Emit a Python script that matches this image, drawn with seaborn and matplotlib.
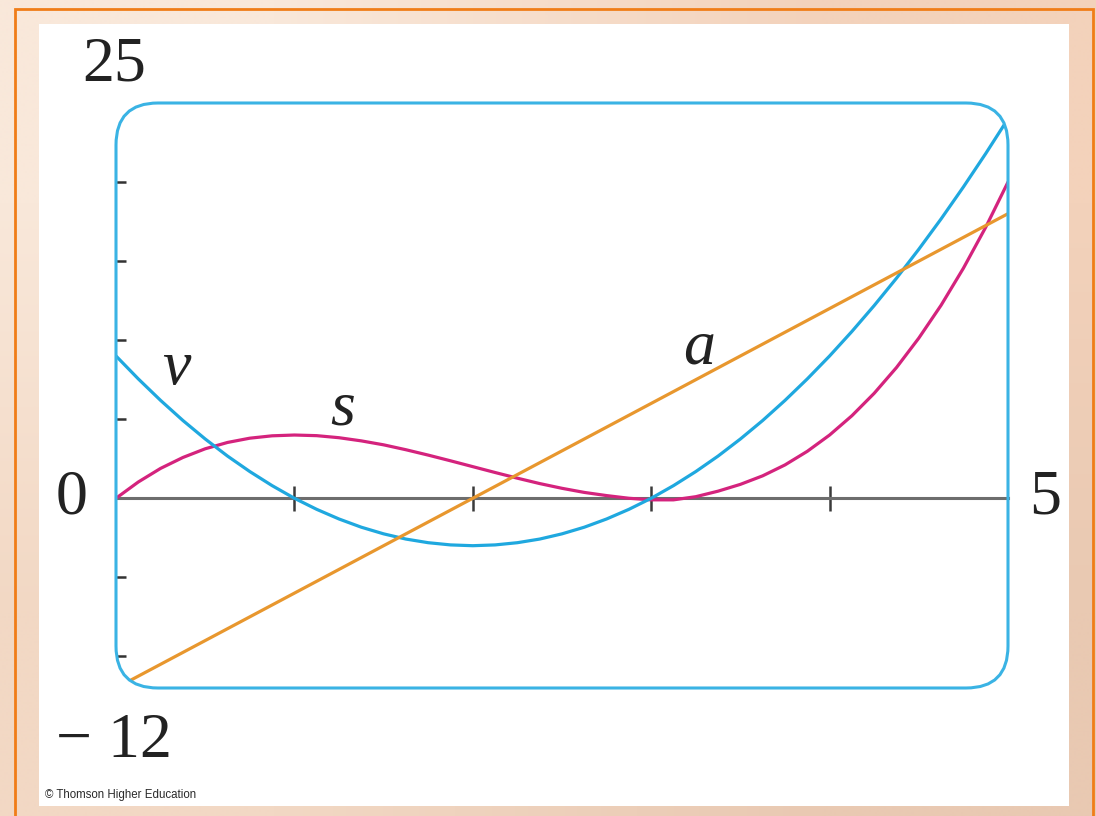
import numpy as np
import pandas as pd
import matplotlib
matplotlib.use("Agg")
import matplotlib.pyplot as plt
from matplotlib.colors import to_rgb
from matplotlib.patches import FancyBboxPatch, Rectangle
import seaborn as sns

# values, t from 0 to 5 in steps of 0.125
t = [0, 0.125, 0.25, 0.375, 0.5, 0.625, 0.75, 0.875, 1,
     1.125, 1.25, 1.375, 1.5, 1.625, 1.75, 1.875, 2,
     2.125, 2.25, 2.375, 2.5, 2.625, 2.75, 2.875, 3,
     3.125, 3.25, 3.375, 3.5, 3.625, 3.75, 3.875, 4,
     4.125, 4.25, 4.375, 4.5, 4.625, 4.75, 4.875, 5]
s = [0, 1.03, 1.89, 2.58, 3.13, 3.53, 3.80, 3.95, 4.0,
     3.96, 3.83, 3.63, 3.38, 3.07, 2.73, 2.37, 2.0,
     1.63, 1.27, 0.93, 0.63, 0.37, 0.17, 0.0, -0.1,
     -0.1, 0.1, 0.45, 0.88, 1.42, 2.11, 2.97, 4.0,
     5.22, 6.64, 8.27, 10.13, 12.21, 14.55, 17.14, 20.0]
v = [9.0, 7.55, 6.19, 4.92, 3.75, 2.67, 1.69, 0.80, 0.0,
     -0.70, -1.31, -1.83, -2.25, -2.58, -2.81, -2.95, -3.0,
     -2.95, -2.81, -2.58, -2.25, -1.83, -1.31, -0.70, 0.0,
     0.80, 1.69, 2.67, 3.75, 4.92, 6.19, 7.55, 9.0,
     10.55, 12.19, 13.92, 15.75, 17.67, 19.69, 21.80, 24.0]
# the a line is straight
t_a = [0, 1, 2, 3, 4, 5]
a = [-12, -6, 0, 6, 12, 18]

curve_names = ["s", "v", "a"]
curve_colors = {"s": "#d4237d", "v": "#1fa8df", "a": "#e8972e"}
# label positions (t, value) for the italic letters
label_pos = {"v": (0.34, 8.2), "s": (1.27, 5.6), "a": (3.27, 9.5)}

x_ticks = [1, 2, 3, 4]
y_ticks = [-10, -5, 5, 10, 15, 20]
y_min, y_max = -12, 25
x_min, x_max = 0, 5

df = pd.concat([
    pd.DataFrame({"t": t, "value": s, "curve": "s"}),
    pd.DataFrame({"t": t, "value": v, "curve": "v"}),
    pd.DataFrame({"t": t_a, "value": a, "curve": "a"}),
], ignore_index=True)

sns.set_style("white")
plt.rcParams["font.family"] = ["Liberation Serif", "DejaVu Serif"]

fig = plt.figure(figsize=(10.96, 8.16), dpi=100)
fig.patch.set_facecolor("#f5d8c3")

# soft peach backdrop
bg = fig.add_axes([0, 0, 1, 1], zorder=-5)
corners = np.array([[to_rgb("#f9e8da"), to_rgb("#f3d2bb")],
                    [to_rgb("#f2d8c4"), to_rgb("#e9c9b2")]])
bg.imshow(corners, aspect="auto", interpolation="bilinear", extent=[0, 1, 0, 1])
bg.axis("off")

# orange frame and white panel
fig.add_artist(Rectangle((15 / 1096, -0.05), 1078 / 1096, 1.05 - 9 / 816,
                         transform=fig.transFigure, facecolor="none",
                         edgecolor="#f07d18", linewidth=2, zorder=-3))
fig.add_artist(Rectangle((39 / 1096, 1 - 806 / 816), 1030 / 1096, 782 / 816,
                         transform=fig.transFigure, facecolor="white",
                         edgecolor="none", zorder=-2))

ax = fig.add_axes([116 / 1096, 1 - 688 / 816, 892 / 1096, 585 / 816])
ax.set_facecolor("none")

sns.lineplot(data=df, x="t", y="value", hue="curve", palette=curve_colors,
             hue_order=curve_names, linewidth=2.3, legend=False, ax=ax)

ax.set_xlim(x_min, x_max)
ax.set_ylim(y_min, y_max)
ax.set_xlabel("")
ax.set_ylabel("")

# rounded cyan box, curves clipped to it
box = FancyBboxPatch((1.16, 1.28), 8.92, 5.85,
                     boxstyle="round,pad=0,rounding_size=0.42",
                     transform=fig.dpi_scale_trans, facecolor="none",
                     edgecolor="#3ab3e4", linewidth=2.2, zorder=3)
fig.add_artist(box)
for line in ax.lines:
    line.set_clip_path(box)

# axes: gray t-axis through zero, small ticks on left edge
for side in ["left", "right", "top"]:
    ax.spines[side].set_visible(False)
ax.spines["bottom"].set_position(("data", 0))
ax.spines["bottom"].set_color("#6d6d6d")
ax.spines["bottom"].set_linewidth(2.2)
ax.spines["bottom"].set_zorder(1)
ax.set_xticks(x_ticks)
ax.set_yticks(y_ticks)
ax.tick_params(axis="x", direction="inout", length=18, width=1.8,
               colors="#3a3a3a", labelbottom=False, bottom=True)
ax.tick_params(axis="y", direction="in", length=7, width=1.8,
               colors="#333333", labelleft=False, left=True)

# end labels of the axes
txt = dict(fontsize=46, color="#222222", ha="center", va="center",
           clip_on=False)
ax.text(-0.25, 0, "0", **txt)
ax.text(5.21, 0, "5", **txt)
ax.text(-0.01, 27.4, "25", **txt)
ax.text(-0.01, -15.4, "− 12", **txt)

for name in curve_names:
    lx, ly = label_pos[name]
    ax.text(lx, ly, name, fontsize=46, style="italic", color="#222222",
            ha="center", va="center")

fig.text(45 / 1096, 1 - 795 / 816, "© Thomson Higher Education",
         fontsize=8.3, family=["Liberation Sans", "DejaVu Sans"],
         color="#2a2a2a", va="center")

fig.savefig("out.png", dpi=100, facecolor=fig.get_facecolor())
